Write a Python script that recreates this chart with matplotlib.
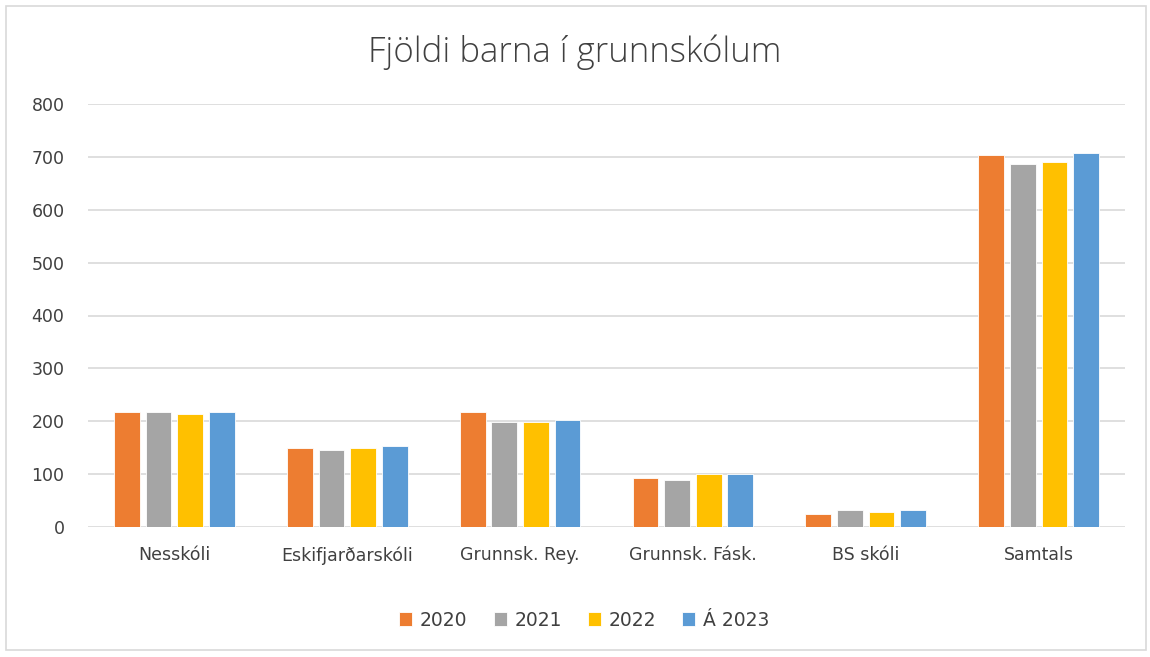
import matplotlib
matplotlib.use("Agg")
import matplotlib.pyplot as plt
import numpy as np
from matplotlib.patches import Rectangle

categories = ["Nesskóli", "Eskifjarðarskóli", "Grunnsk. Rey.", "Grunnsk. Fásk.", "BS skóli", "Samtals"]
series_names = ["2020", "2021", "2022", "Á 2023"]
v2020 = [218, 149, 218, 93, 25, 704]
v2021 = [218, 145, 198, 89, 33, 687]
v2022 = [214, 149, 198, 101, 28, 691]
v2023 = [218, 153, 202, 101, 33, 708]
colors = ["#ED7D31", "#A5A5A5", "#FFC000", "#5B9BD5"]
yticks = [0, 100, 200, 300, 400, 500, 600, 700, 800]

plt.rcParams['font.family'] = ['DejaVu Sans']

fig = plt.figure(figsize=(11.5, 6.57), dpi=100)
ax = fig.add_axes([88/1150, 1-527/657, (1125-88)/1150, (527-104)/657])

x = np.arange(len(categories))
w = 0.149
step = 0.183
for i, (vals, name, c) in enumerate(zip([v2020, v2021, v2022, v2023], series_names, colors)):
    ax.bar(x + (i - 1.5) * step, vals, width=w, color=c, label=name,
           edgecolor="white", linewidth=0.6, zorder=3)

ax.set_xlim(-0.5, len(categories) - 0.5)
ax.set_ylim(0, 800)
ax.set_yticks(yticks)
ax.set_yticklabels([str(t) for t in yticks])
ax.set_xticks(x)
ax.set_xticklabels(categories)
ax.grid(axis="y", color="#D9D9D9", linewidth=1.2, zorder=0)
for s in ["top", "right", "left", "bottom"]:
    ax.spines[s].set_visible(False)
ax.tick_params(axis="both", length=0, colors="#404040")
ax.tick_params(axis="y", pad=17, labelsize=12.5)
ax.tick_params(axis="x", pad=14, labelsize=12.5)

fig.text(0.5, 1-52/657, "Fjöldi barna í grunnskólum", ha="center", va="center",
         fontsize=25, color="#404040", fontweight="light", family=["Open Sans", "DejaVu Sans"])

leg = fig.legend(loc="center", bbox_to_anchor=(0.508, 1-620/657), ncol=4, frameon=False,
                 fontsize=13.5, handlelength=0.7, handleheight=0.7, handletextpad=0.4,
                 columnspacing=1.4)
for t in leg.get_texts():
    t.set_color("#404040")

fig.patches.append(Rectangle((6/1150, 1-650/657), 1140/1150, 644/657, transform=fig.transFigure,
                             fill=False, edgecolor="#D9D9D9", linewidth=1.2))

fig.savefig("out.png", dpi=100, facecolor="white")
